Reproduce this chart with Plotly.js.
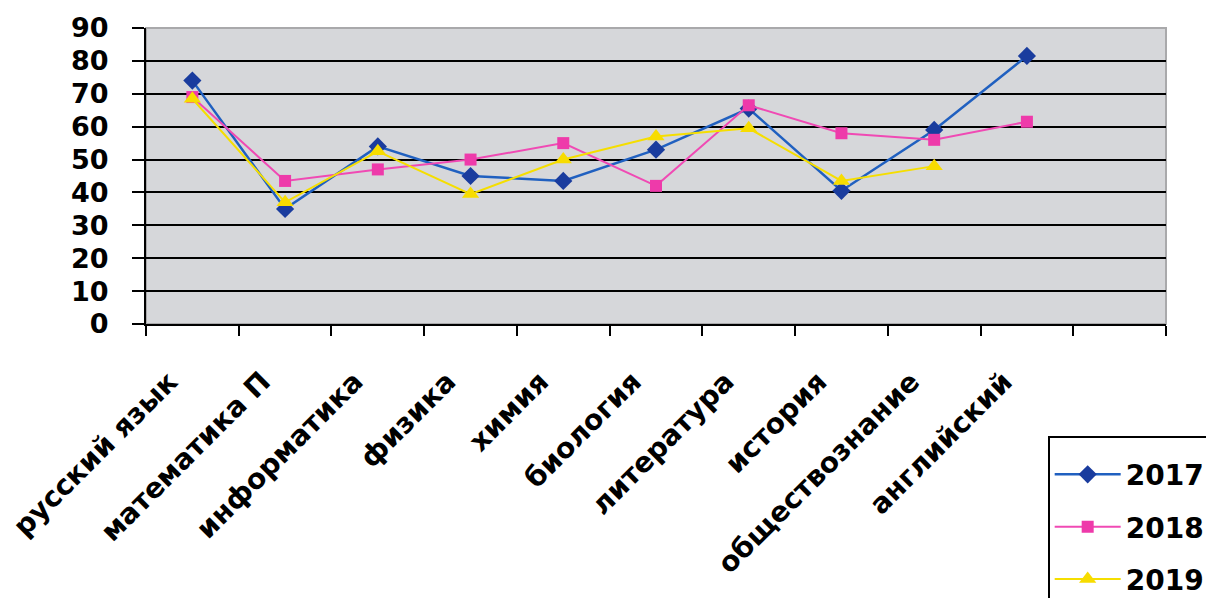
<!DOCTYPE html>
<html>
<head>
<meta charset="utf-8">
<script src="https://cdn.plot.ly/plotly-3.0.1.min.js"></script>
<style>html,body{margin:0;padding:0;background:#fff;}#chart{width:1206px;height:598px;}</style>
</head>
<body>
<div id="chart"></div>
<script>
const categories = ["русский язык","математика П","информатика","физика","химия","биология","литература","история","обществознание","английский"," "];
const y2017 = [74, 35, 54, 45, 43.5, 53, 65.5, 40.5, 59, 81.5, null];
const y2018 = [69, 43.5, 47, 50, 55, 42, 66.5, 58, 56, 61.5, null];
const y2019 = [68.5, 37, 52.5, 39.5, 50, 57, 59.5, 43.5, 48, null, null];
const yTicks = [0,10,20,30,40,50,60,70,80,90];

const FONT = "DejaVu Sans, Arial, sans-serif";

const traces = [
  {name:"2017", x:categories, y:y2017, type:"scatter", mode:"lines+markers", legendgroup:"a",
   line:{color:"#2060c0", width:2.5}, marker:{symbol:"diamond", size:14, color:"#1a3c9e"}},
  {name:"2018", x:categories, y:y2018, type:"scatter", mode:"lines+markers", legendgroup:"b",
   line:{color:"#f04ab4", width:2}, marker:{symbol:"square", size:12, color:"#ee3aaa"}},
  {name:"2019", x:categories, y:y2019, type:"scatter", mode:"lines+markers", legendgroup:"c",
   line:{color:"#f5de00", width:2}, marker:{symbol:"triangle-up", size:15, color:"#f7dc00"}}
];

const layout = {
  width:1206, height:598,
  margin:{l:146, r:40, t:28, b:274, autoexpand:false},
  paper_bgcolor:"#ffffff",
  plot_bgcolor:"#d6d7da",
  font:{family:FONT, color:"#000"},
  showlegend:true,
  legend:{x:0.884, xanchor:"left", y:-0.378, yanchor:"top",
    bgcolor:"#ffffff", bordercolor:"#000", borderwidth:2,
    font:{family:FONT, size:28, weight:"bold", color:"#000"},
    title:{text:" ", font:{size:9}},
    itemwidth:66, tracegroupgap:13, traceorder:"grouped"},
  xaxis:{type:"category", categoryorder:"array", categoryarray:categories,
    range:[-0.5, 10.5], automargin:false,
    showline:true, linecolor:"#000", linewidth:2,
    ticks:"outside", tickson:"boundaries", ticklen:10, tickwidth:2, tickcolor:"#000",
    tickangle:-45, ticklabelstandoff:28, ticklabelshift:-23,
    tickfont:{family:FONT, size:28, weight:"bold", color:"#000"},
    showgrid:false, zeroline:false, fixedrange:true},
  yaxis:{range:[0,90], tickmode:"array", tickvals:yTicks, ticktext:yTicks.map(String),
    automargin:false,
    showline:true, linecolor:"#000", linewidth:2,
    ticks:"outside", ticklen:12, tickwidth:2, tickcolor:"#000", ticklabelstandoff:18,
    tickfont:{family:FONT, size:27, weight:"bold", color:"#000"},
    showgrid:true, gridcolor:"#000", gridwidth:2, zeroline:false, fixedrange:true},
  shapes:[
    {type:"rect", xref:"paper", yref:"paper", x0:0, x1:1, y0:0, y1:1,
     line:{color:"#a9a9ab", width:2}, fillcolor:"rgba(0,0,0,0)", layer:"between"}
  ]
};

Plotly.newPlot("chart", traces, layout, {displayModeBar:false, staticPlot:true});
</script>
</body>
</html>
